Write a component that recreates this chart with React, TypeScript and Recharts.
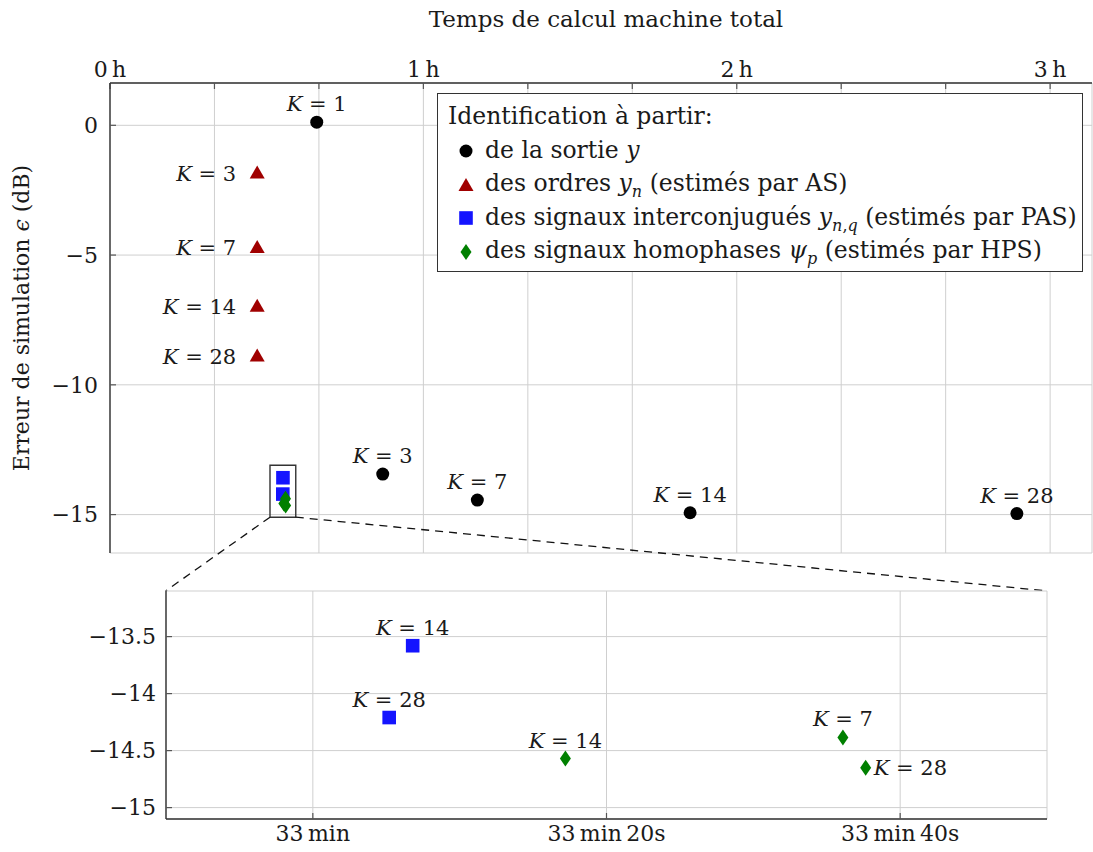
import React from "react";
import {
  CartesianGrid,
  ReferenceArea,
  ReferenceLine,
  Scatter,
  ScatterChart,
  XAxis,
  YAxis,
} from "recharts";

const SERIF = "'DejaVu Serif', 'Liberation Serif', serif";
const INK = "#1a1a1a";
const FRAME = "#333";
const TICK = "#555";
const GRID = "#cfcfcf";

// time in seconds, simulation error in dB
const sortieK = [1, 3, 7, 14, 28];
const sortieT = [2375, 3133, 4220, 6664, 10418];
const sortieE = [0.12, -13.44, -14.44, -14.93, -14.96];

const ordresK = [3, 7, 14, 28];
const ordresT = [1691, 1691, 1691, 1691];
const ordresE = [-1.82, -4.69, -6.95, -8.87];

const pasK = [14, 28];
const pasT = [1986.8, 1985.2];
const pasE = [-13.58, -14.21];

const hpsK = [7, 14, 28];
const hpsT = [2016.1, 1997.2, 2017.65];
const hpsE = [-14.385, -14.57, -14.65];

const mainXTicks = [0, 1200, 2400, 3600, 4800, 6000, 7200, 8400, 9600, 10800];
const mainYTicks = [-15, -10, -5, 0];
const zoomXTicks = [1980, 2000, 2020];
const zoomXLabels = ["33\u2009min", "33\u2009min\u200920s", "33\u2009min\u200940s"];
const zoomYTicks = [-15, -14.5, -14, -13.5];

const mainXDomain = [0, 11281];
const mainYDomain = [-16.48, 1.63];
const zoomXDomain = [1970, 2030];
const zoomYDomain = [-15.1, -13.1];

// spy box on the main plot, and where the dashed leads land (inset top corners)
const spyT = [1838, 2134];
const spyE = [-15.1, -13.1];
const leadT = [640, 10763];
const leadE = -17.94;

const zip = (k: number[], t: number[], e: number[]) =>
  k.map((kk, i) => ({ k: kk, t: t[i], e: e[i] }));

const sortieData = zip(sortieK, sortieT, sortieE);
const ordresData = zip(ordresK, ordresT, ordresE);
const pasData = zip(pasK, pasT, pasE);
const hpsData = zip(hpsK, hpsT, hpsE);

const fmtNum = (v: number) => (v < 0 ? "\u2212" + Math.abs(v) : String(v));
const hourLabel = (v: number) => (v % 3600 === 0 ? `${v / 3600}\u2009h` : "");
const blank = () => "";

const tickStyle = { fill: INK, fontSize: 22, fontFamily: SERIF };
const axisLine = { stroke: FRAME, strokeWidth: 1.4 };
const tickLine = { stroke: TICK, strokeWidth: 1.2 };

type Kind = "circle" | "triangle" | "square" | "diamond";
type Side = "top" | "left" | "right" | null;

function Marker({ kind, cx, cy }: { kind: Kind; cx: number; cy: number }) {
  if (kind === "circle") return <circle cx={cx} cy={cy} r={6.5} fill="#000" />;
  if (kind === "triangle")
    return (
      <polygon
        points={`${cx},${cy - 7} ${cx - 7.5},${cy + 6} ${cx + 7.5},${cy + 6}`}
        fill="#a00000"
      />
    );
  if (kind === "square")
    return <rect x={cx - 6.8} y={cy - 6.8} width={13.6} height={13.6} fill="#1414ff" />;
  return (
    <polygon
      points={`${cx},${cy - 8} ${cx + 5.5},${cy} ${cx},${cy + 8} ${cx - 5.5},${cy}`}
      fill="#008000"
    />
  );
}

function KLabel({ x, y, k, anchor }: { x: number; y: number; k: number; anchor: string }) {
  return (
    <text x={x} y={y} textAnchor={anchor as any} fontFamily={SERIF} fontSize={21} fill={INK}>
      <tspan fontStyle="italic">K</tspan>
      <tspan>{" = " + k}</tspan>
    </text>
  );
}

const pointShape = (kind: Kind, side?: (k: number) => Side) => (props: any) => {
  const { cx, cy, payload } = props;
  const s = side ? side(payload.k) : null;
  return (
    <g>
      <Marker kind={kind} cx={cx} cy={cy} />
      {s === "top" && <KLabel x={cx} y={cy - 11} k={payload.k} anchor="middle" />}
      {s === "left" && <KLabel x={cx - 21} y={cy + 8} k={payload.k} anchor="end" />}
      {s === "right" && <KLabel x={cx + 8} y={cy + 7} k={payload.k} anchor="start" />}
    </g>
  );
};

function LegendMark({ kind }: { kind: Kind }) {
  return (
    <svg width={16} height={18} style={{ verticalAlign: "middle", marginRight: 11 }}>
      <Marker kind={kind} cx={8} cy={9} />
    </svg>
  );
}

const subStyle: React.CSSProperties = { fontSize: "0.68em", lineHeight: 0 };

function LegendBox() {
  return (
    <div
      style={{
        position: "absolute",
        left: 437,
        top: 93,
        width: 646,
        height: 179,
        boxSizing: "border-box",
        border: `1.4px solid ${FRAME}`,
        background: "#fff",
        padding: "6px 10px",
        fontFamily: SERIF,
        fontSize: 23.5,
        lineHeight: "33.5px",
        color: INK,
        whiteSpace: "nowrap",
      }}
    >
      <div>Identification à partir:</div>
      <div style={{ paddingLeft: 10 }}>
        <LegendMark kind="circle" />
        de la sortie <i>y</i>
      </div>
      <div style={{ paddingLeft: 10 }}>
        <LegendMark kind="triangle" />
        des ordres <i>y</i>
        <sub style={subStyle}>
          <i>n</i>
        </sub>{" "}
        (estimés par AS)
      </div>
      <div style={{ paddingLeft: 10 }}>
        <LegendMark kind="square" />
        des signaux interconjugués <i>y</i>
        <sub style={subStyle}>
          <i>n</i>,<i>q</i>
        </sub>{" "}
        (estimés par PAS)
      </div>
      <div style={{ paddingLeft: 10 }}>
        <LegendMark kind="diamond" />
        des signaux homophases <i>ψ</i>
        <sub style={subStyle}>
          <i>p</i>
        </sub>{" "}
        (estimés par HPS)
      </div>
    </div>
  );
}

export default function App() {
  return (
    <div
      style={{
        position: "absolute",
        left: 0,
        top: 0,
        width: 1093,
        height: 852,
        background: "#fff",
        fontFamily: SERIF,
        color: INK,
      }}
    >
      <div
        style={{
          position: "absolute",
          left: 115,
          top: 2,
          width: 982,
          textAlign: "center",
          fontSize: 23,
          lineHeight: "34px",
        }}
      >
        Temps de calcul machine total
      </div>
      <div
        style={{
          position: "absolute",
          left: 22 - 200,
          top: 318 - 17,
          width: 400,
          textAlign: "center",
          fontSize: 22,
          lineHeight: "34px",
          transform: "rotate(-90deg)",
          transformOrigin: "center",
          whiteSpace: "nowrap",
        }}
      >
        Erreur de simulation <i>ϵ</i> (dB)
      </div>

      <div style={{ position: "absolute", left: 0, top: 0 }}>
        <ScatterChart width={1093} height={600} margin={{ top: 43, right: 1, bottom: 47, left: 50 }}>
          <CartesianGrid xAxisId="top" yAxisId="left" stroke={GRID} />
          <XAxis
            xAxisId="top"
            orientation="top"
            type="number"
            dataKey="t"
            domain={mainXDomain}
            allowDataOverflow
            ticks={mainXTicks}
            interval={0}
            tickFormatter={hourLabel}
            height={40}
            tickSize={-6}
            tickMargin={12}
            axisLine={axisLine}
            tickLine={tickLine}
            tick={tickStyle}
          />
          <XAxis
            xAxisId="bottom"
            orientation="bottom"
            type="number"
            dataKey="t"
            domain={mainXDomain}
            allowDataOverflow
            ticks={mainXTicks}
            interval={0}
            tickFormatter={blank}
            height={0}
            tickSize={-6}
            axisLine={axisLine}
            tickLine={tickLine}
          />
          <YAxis
            yAxisId="left"
            orientation="left"
            type="number"
            dataKey="e"
            domain={mainYDomain}
            allowDataOverflow
            ticks={mainYTicks}
            interval={0}
            tickFormatter={fmtNum}
            width={60}
            tickSize={-6}
            tickMargin={18}
            axisLine={axisLine}
            tickLine={tickLine}
            tick={tickStyle}
          />
          <YAxis
            yAxisId="right"
            orientation="right"
            type="number"
            dataKey="e"
            domain={mainYDomain}
            allowDataOverflow
            ticks={mainYTicks}
            interval={0}
            tickFormatter={blank}
            width={0}
            tickSize={-6}
            axisLine={axisLine}
            tickLine={tickLine}
          />
          <ReferenceArea
            xAxisId="top"
            yAxisId="left"
            x1={spyT[0]}
            x2={spyT[1]}
            y1={spyE[0]}
            y2={spyE[1]}
            fill="none"
            fillOpacity={0}
            stroke={FRAME}
            strokeWidth={1.4}
            ifOverflow="visible"
          />
          <ReferenceLine
            xAxisId="top"
            yAxisId="left"
            segment={[
              { x: spyT[0], y: spyE[0] },
              { x: leadT[0], y: leadE },
            ]}
            stroke="#111"
            strokeWidth={1.3}
            strokeDasharray="8 6"
            ifOverflow="visible"
          />
          <ReferenceLine
            xAxisId="top"
            yAxisId="left"
            segment={[
              { x: spyT[1], y: spyE[0] },
              { x: leadT[1], y: leadE },
            ]}
            stroke="#111"
            strokeWidth={1.3}
            strokeDasharray="8 6"
            ifOverflow="visible"
          />
          <Scatter
            xAxisId="top"
            yAxisId="left"
            data={sortieData}
            dataKey="e"
            shape={pointShape("circle", () => "top")}
            isAnimationActive={false}
          />
          <Scatter
            xAxisId="top"
            yAxisId="left"
            data={ordresData}
            dataKey="e"
            shape={pointShape("triangle", () => "left")}
            isAnimationActive={false}
          />
          <Scatter
            xAxisId="top"
            yAxisId="left"
            data={pasData}
            dataKey="e"
            shape={pointShape("square")}
            isAnimationActive={false}
          />
          <Scatter
            xAxisId="top"
            yAxisId="left"
            data={hpsData}
            dataKey="e"
            shape={pointShape("diamond")}
            isAnimationActive={false}
          />
        </ScatterChart>
      </div>

      <LegendBox />

      <div style={{ position: "absolute", left: 0, top: 560 }}>
        <ScatterChart width={1093} height={292} margin={{ top: 31, right: 46, bottom: 3, left: 96 }}>
          <CartesianGrid xAxisId="bottom" yAxisId="left" stroke={GRID} />
          <XAxis
            xAxisId="bottom"
            orientation="bottom"
            type="number"
            dataKey="t"
            domain={zoomXDomain}
            allowDataOverflow
            ticks={zoomXTicks}
            interval={0}
            tickFormatter={(v: number) => zoomXLabels[zoomXTicks.indexOf(v)] ?? ""}
            height={30}
            tickSize={-6}
            tickMargin={12}
            axisLine={axisLine}
            tickLine={tickLine}
            tick={tickStyle}
          />
          <XAxis
            xAxisId="top"
            orientation="top"
            type="number"
            dataKey="t"
            domain={zoomXDomain}
            allowDataOverflow
            ticks={zoomXTicks}
            interval={0}
            tickFormatter={blank}
            height={0}
            tickSize={-6}
            axisLine={axisLine}
            tickLine={tickLine}
          />
          <YAxis
            yAxisId="left"
            orientation="left"
            type="number"
            dataKey="e"
            domain={zoomYDomain}
            allowDataOverflow
            ticks={zoomYTicks}
            interval={0}
            tickFormatter={fmtNum}
            width={70}
            tickSize={-6}
            tickMargin={16}
            axisLine={axisLine}
            tickLine={tickLine}
            tick={tickStyle}
          />
          <YAxis
            yAxisId="right"
            orientation="right"
            type="number"
            dataKey="e"
            domain={zoomYDomain}
            allowDataOverflow
            ticks={zoomYTicks}
            interval={0}
            tickFormatter={blank}
            width={0}
            tickSize={-6}
            axisLine={axisLine}
            tickLine={tickLine}
          />
          <Scatter
            xAxisId="bottom"
            yAxisId="left"
            data={pasData}
            dataKey="e"
            shape={pointShape("square", () => "top")}
            isAnimationActive={false}
          />
          <Scatter
            xAxisId="bottom"
            yAxisId="left"
            data={hpsData}
            dataKey="e"
            shape={pointShape("diamond", (k) => (k === 28 ? "right" : "top"))}
            isAnimationActive={false}
          />
        </ScatterChart>
      </div>
    </div>
  );
}
